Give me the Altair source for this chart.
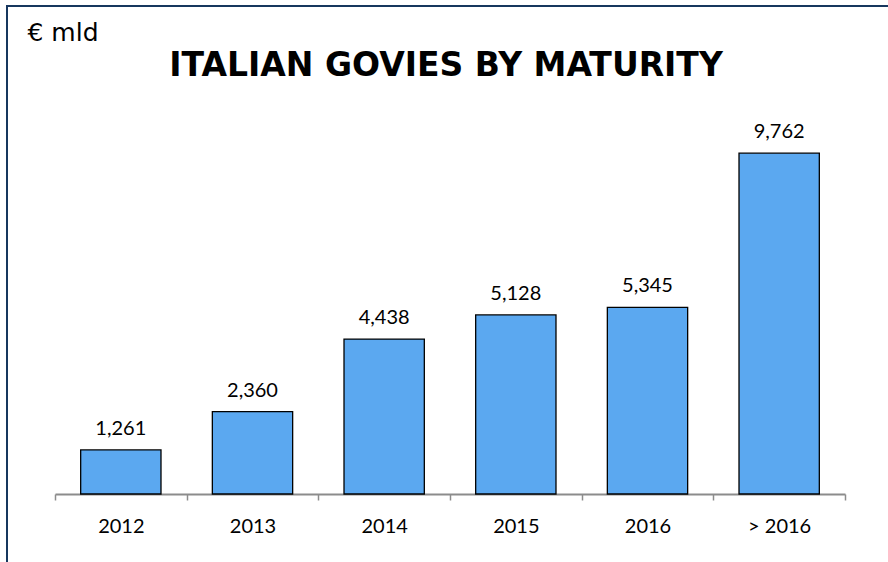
import altair as alt
import pandas as pd

categories = ["2012", "2013", "2014", "2015", "2016", "> 2016"]
values = [1261, 2360, 4438, 5128, 5345, 9762]
chart_title = "ITALIAN GOVIES BY MATURITY"
unit_label = "€ mld"

df = pd.DataFrame({"cat": categories, "val": values})

x_enc = alt.X(
    "cat:N",
    sort=categories,
    scale=alt.Scale(paddingInner=0, paddingOuter=0),
    axis=alt.Axis(
        title=None,
        tickBand="extent",
        labelFont="Lato",
        labelFontSize=20,
        labelColor="#000000",
        labelPadding=16,
        labelAngle=0,
        domainColor="#8c8c8c",
        domainWidth=2,
        tickColor="#8c8c8c",
        tickWidth=1.5,
        tickSize=6,
        grid=False,
    ),
)

y_enc = alt.Y(
    "val:Q",
    scale=alt.Scale(domain=[0, 12000]),
    axis=alt.Axis(
        title=unit_label,
        labels=False,
        ticks=False,
        domain=False,
        grid=False,
        titleAngle=0,
        titleX=-28,
        titleY=-35,
        titleAlign="left",
        titleBaseline="alphabetic",
        titleFont="DejaVu Sans",
        titleFontSize=25,
        titleFontWeight="normal",
        titleColor="#000000",
    ),
)

base = alt.Chart(df)

bars = base.mark_bar(
    color="#5BA8F0",
    stroke="#000000",
    strokeWidth=1.3,
    width=alt.RelativeBandSize(0.61),
).encode(x=x_enc, y=y_enc)

labels = base.mark_text(
    baseline="alphabetic", dy=-15, font="Lato", fontSize=20, color="#000000"
).encode(
    x=alt.X("cat:N", sort=categories),
    y=alt.Y("val:Q"),
    text=alt.Text("val:Q", format=","),
)

deco = alt.Data(values=[{"k": 1}])
title_text = alt.Chart(deco).mark_text(
    text=chart_title,
    font="DejaVu Sans",
    fontSize=33,
    fontWeight="bold",
    color="#000000",
    align="center",
    baseline="alphabetic",
).encode(x=alt.value(391), y=alt.value(1))

top_border = alt.Chart(deco).mark_rule(color="#17375E", strokeWidth=2).encode(
    x=alt.value(-49), x2=alt.value(833), y=alt.value(-69)
)
left_border = alt.Chart(deco).mark_rule(color="#17375E", strokeWidth=2).encode(
    x=alt.value(-48), y=alt.value(-70), y2=alt.value(487)
)

chart = (
    alt.layer(bars, labels, title_text, top_border, left_border)
    .properties(
        width=790,
        height=419,
        autosize=alt.AutoSizeParams(type="none"),
        padding={"left": 55, "top": 75, "right": 43, "bottom": 68},
        background="#ffffff",
    )
    .configure_view(stroke=None)
)

chart.save("out.html", embed_options={"renderer": "svg", "actions": False})
